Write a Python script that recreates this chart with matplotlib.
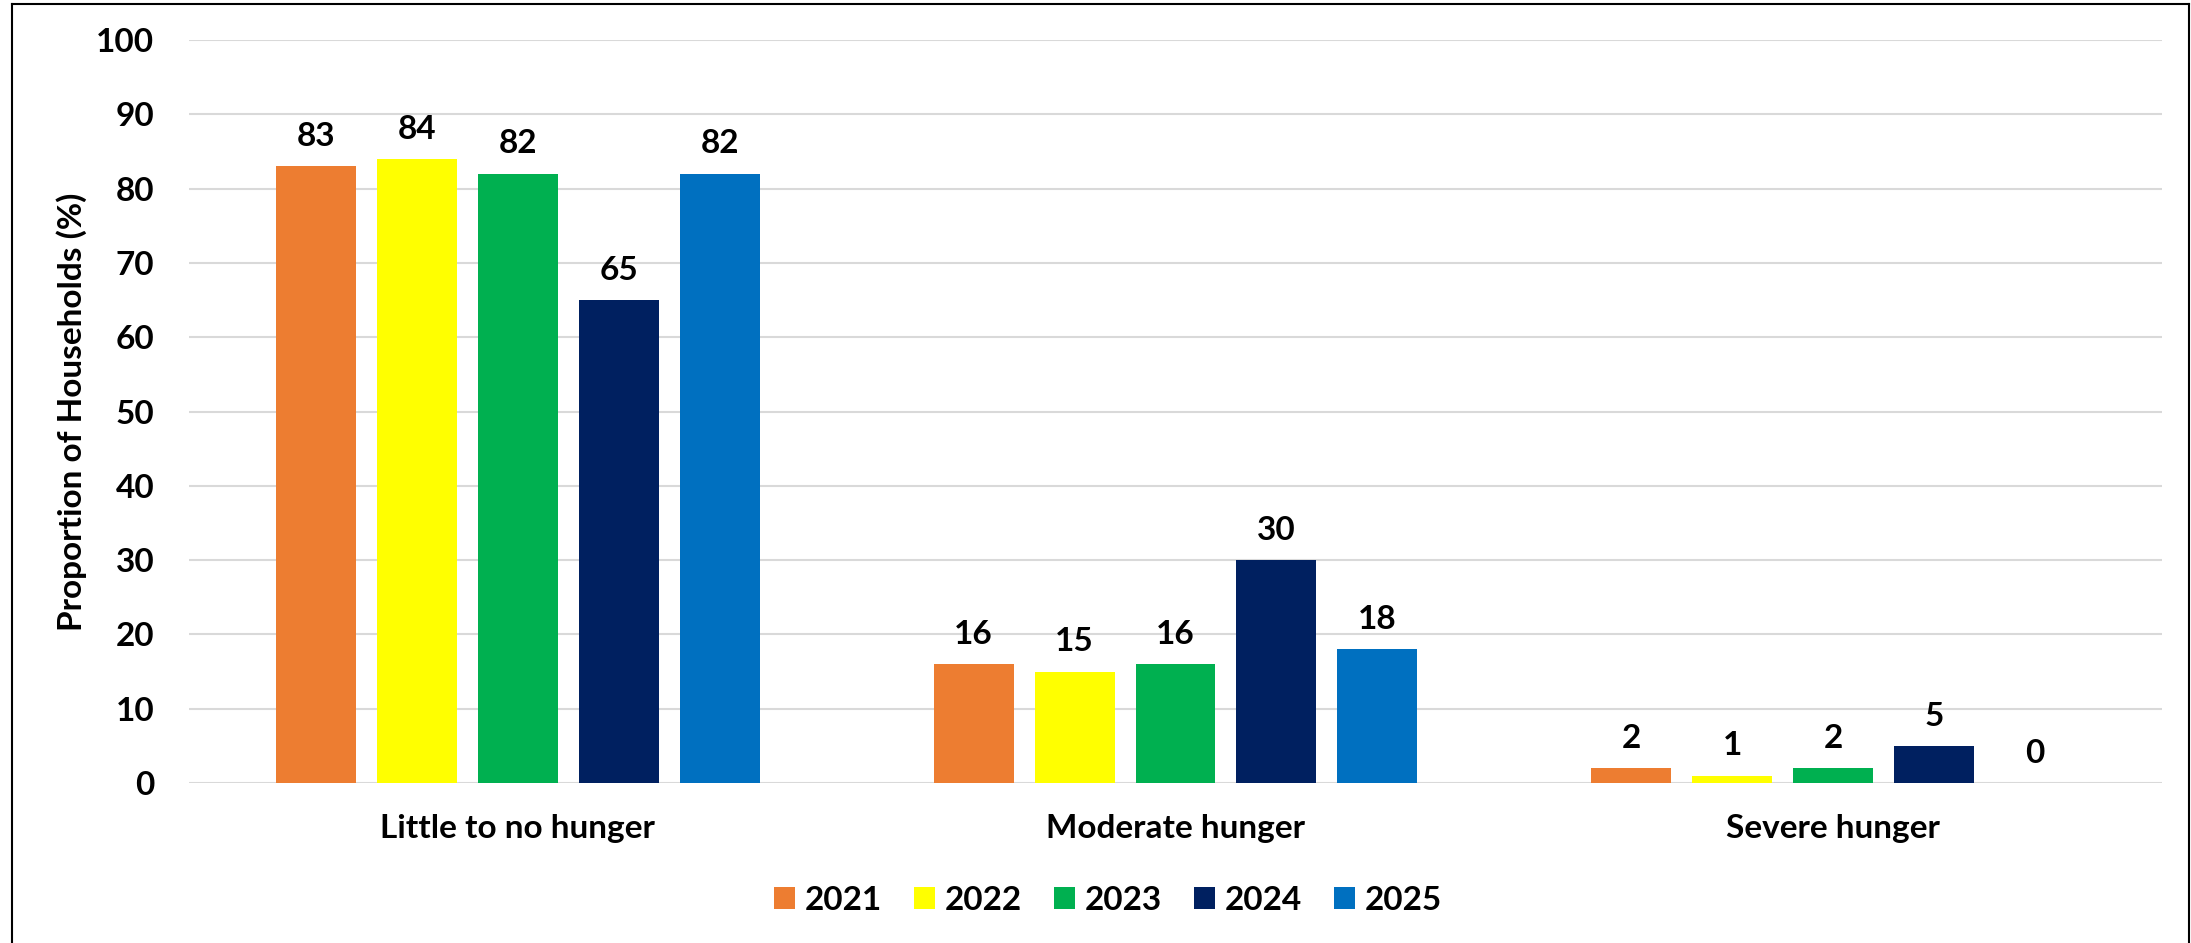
import matplotlib
matplotlib.use("Agg")
import matplotlib.pyplot as plt
from matplotlib.patches import Patch
from matplotlib.lines import Line2D
import numpy as np

categories = ["Little to no hunger", "Moderate hunger", "Severe hunger"]
years = ["2021", "2022", "2023", "2024", "2025"]
values_2021 = [83, 16, 2]
values_2022 = [84, 15, 1]
values_2023 = [82, 16, 2]
values_2024 = [65, 30, 5]
values_2025 = [82, 18, 0]
series = [values_2021, values_2022, values_2023, values_2024, values_2025]
colors = ["#ED7D31", "#FFFF00", "#00B050", "#002060", "#0070C0"]
yticks = [0, 10, 20, 30, 40, 50, 60, 70, 80, 90, 100]

plt.rcParams['font.family'] = ['Lato', 'DejaVu Sans']
plt.rcParams['font.weight'] = 'bold'

W, H = 2191, 943
fig = plt.figure(figsize=(W / 100, H / 100), dpi=100)
ax = fig.add_axes([189 / W, 1 - 783 / H, (2162 - 189) / W, (783 - 40) / H])

x = np.arange(len(categories))
step = 101 / 657.7
bw = 80 / 657.7
fs = 24
for i, (vals, col, yr) in enumerate(zip(series, colors, years)):
    bars = ax.bar(x + (i - 2) * step, vals, width=bw, color=col, label=yr, zorder=3)
    ax.bar_label(bars, labels=[str(v) for v in vals], padding=11,
                 fontsize=fs, fontweight='bold')

ax.set_xlim(-0.5, 2.5)
ax.set_ylim(0, 100)
ax.set_yticks(yticks)
ax.set_yticklabels([str(t) for t in yticks])
ax.set_xticks(x)
ax.set_xticklabels(categories)
ax.tick_params(axis='y', length=0, pad=25, labelsize=fs)
ax.tick_params(axis='x', length=0, pad=22, labelsize=fs)
for lab in ax.get_xticklabels() + ax.get_yticklabels():
    lab.set_fontweight('bold')
ax.grid(axis='y', color='#D9D9D9', linewidth=1.5, zorder=0)
ax.set_axisbelow(True)
for s in ax.spines.values():
    s.set_visible(False)

ax.set_ylabel("Proportion of Households (%)", fontsize=fs, fontweight='bold')
ax.yaxis.set_label_coords((87 - 189) / (2162 - 189), 0.5)

handles = [Patch(facecolor=c, edgecolor='none', label=y) for c, y in zip(colors, years)]
fig.legend(handles=handles, loc='center', bbox_to_anchor=(1108 / W, 1 - 900 / H),
           ncol=5, frameon=False, prop={'weight': 'bold', 'size': fs},
           handlelength=0.63, handleheight=0.63, handletextpad=0.3,
           columnspacing=0.95)

# outer border (no bottom edge visible)
lw = 1.5
fig.add_artist(Line2D([11.5 / W, 11.5 / W], [0, 1 - 3.5 / H], transform=fig.transFigure,
                      color='black', linewidth=lw))
fig.add_artist(Line2D([11.5 / W, 2188.5 / W], [1 - 3.5 / H, 1 - 3.5 / H],
                      transform=fig.transFigure, color='black', linewidth=lw))
fig.add_artist(Line2D([2188.5 / W, 2188.5 / W], [0, 1 - 3.5 / H], transform=fig.transFigure,
                      color='black', linewidth=lw))

fig.savefig("out.png", dpi=100, facecolor='white')
